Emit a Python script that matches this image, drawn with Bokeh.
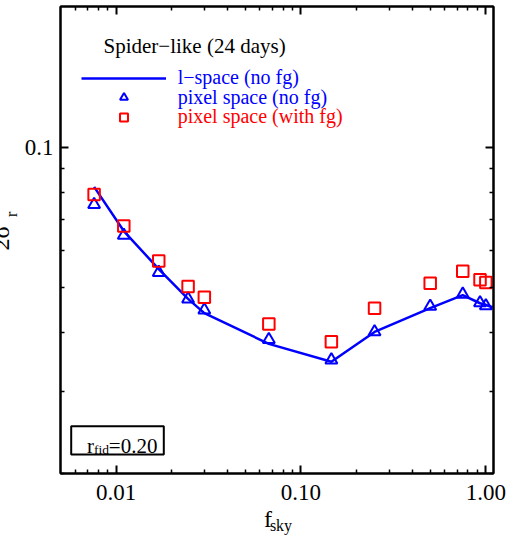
import math
from bokeh.plotting import figure
from bokeh.models import (Range1d, FixedTicker, PrintfTickFormatter, CustomJSTickFormatter,
                          LogAxis, Label, Title, Legend, LegendItem, BoxAnnotation)
from bokeh.embed import file_html
from bokeh.resources import INLINE

# ---- data ----
fsky_pix = [0.0076, 0.011, 0.017, 0.0245, 0.030, 0.067, 0.146, 0.25, 0.50, 0.75, 0.93, 1.0]
sigma_pix_nofg = [0.0753, 0.0647, 0.0539, 0.0473, 0.0448, 0.0387, 0.0350, 0.0402, 0.0456, 0.0484, 0.0464, 0.0457]
sigma_pix_fg = [0.0792, 0.0678, 0.0570, 0.0503, 0.0477, 0.0418, 0.0383, 0.0452, 0.0511, 0.0542, 0.0520, 0.0513]
fsky_l = [0.0076, 0.011, 0.017, 0.0245, 0.030, 0.067, 0.146, 0.25, 0.50, 0.75, 0.93, 1.0, 1.09]
sigma_l = [0.0822, 0.0661, 0.0548, 0.0473, 0.0441, 0.0379, 0.0347, 0.0402, 0.0452, 0.0482, 0.0463, 0.0459, 0.0454]

x_major = [0.01, 0.1, 1.0]
x_minor = [0.006, 0.007, 0.008, 0.009, 0.02, 0.03, 0.04, 0.05, 0.06, 0.07, 0.08, 0.09,
           0.2, 0.3, 0.4, 0.5, 0.6, 0.7, 0.8, 0.9]
y_major = [0.1]
y_minor = [0.02, 0.03, 0.04, 0.05, 0.06, 0.07, 0.08, 0.09]

title_text = "Spider\u2212like (24 days)"
legend_labels = ["l\u2212space (no fg)", "pixel space (no fg)", "pixel space (with fg)"]
x_title, x_title_sub = "f", "sky"
y_title, y_title_sub = "2\u03c3", "r"

FONT = "Liberation Serif"
BLUE = "#0000ff"
RED = "#ff0000"
NB = "\u00a0"

p = figure(width=510, height=536, x_axis_type="log", y_axis_type="log",
           x_range=Range1d(0.005, 1.1), y_range=Range1d(0.02, 0.2),
           output_backend="svg", toolbar_location=None,
           min_border_left=60, min_border_right=17, min_border_top=6, min_border_bottom=61)
p.grid.visible = False
p.outline_line_color = "black"
p.outline_line_width = 2
p.background_fill_color = "white"
p.border_fill_color = "white"

xb = p.below[0]
yl = p.left[0]


def style_axis(ax, ticks, minor, fmt, labels=True, standoff=8):
    ax.ticker = FixedTicker(ticks=ticks, minor_ticks=minor)
    ax.axis_line_width = 2
    ax.axis_line_color = "black"
    ax.major_tick_in = 8
    ax.major_tick_out = 0
    ax.minor_tick_in = 4
    ax.minor_tick_out = 0
    ax.major_tick_line_width = 2
    ax.minor_tick_line_width = 1.5
    ax.major_tick_line_color = "black"
    ax.minor_tick_line_color = "black"
    ax.major_label_text_font = FONT
    ax.major_label_text_color = "black"
    if labels:
        ax.formatter = PrintfTickFormatter(format=fmt)
        ax.major_label_text_font_size = "23px"
        ax.major_label_standoff = standoff
    else:
        ax.formatter = CustomJSTickFormatter(code="return ''")
        ax.major_label_text_font_size = "4px"
        ax.major_label_standoff = 0


style_axis(xb, x_major, x_minor, "%.2f", standoff=11)
style_axis(yl, y_major, y_minor, "%.1f", standoff=7)
top = LogAxis()
style_axis(top, x_major, x_minor, "%.2f", labels=False)
p.add_layout(top, "above")
right = LogAxis()
style_axis(right, y_major, y_minor, "%.1f", labels=False)
p.add_layout(right, "right")

# x title: "f" as the axis label, subscript "sky" as the label of a bare second axis
xb.axis_label = x_title + NB * 3
xb.axis_label_text_font = FONT
xb.axis_label_text_font_size = "24px"
xb.axis_label_text_font_style = "normal"
xb.axis_label_text_color = "black"
xb.axis_label_standoff = 3


def bare_axis(tick_out=0):
    return LogAxis(ticker=FixedTicker(ticks=[], minor_ticks=[]),
                   formatter=CustomJSTickFormatter(code="return ''"),
                   major_tick_out=tick_out, major_tick_in=0, minor_tick_out=0, minor_tick_in=0,
                   major_label_standoff=0, major_label_text_font_size="4px",
                   axis_line_alpha=0)


sub_ax = bare_axis()
sub_ax.axis_label = NB * 2 + x_title_sub
sub_ax.axis_label_text_font = FONT
sub_ax.axis_label_text_font_size = "16px"
sub_ax.axis_label_text_font_style = "normal"
sub_ax.axis_label_text_color = "black"
sub_ax.axis_label_standoff = -18
p.add_layout(sub_ax, "below")

# y title (cut by the left edge as in the reference)
p.add_layout(Title(text=y_title_sub, text_font=FONT, text_font_size="16px",
                   text_font_style="normal", text_color="black",
                   align="left", vertical_align="middle", offset=256.5, standoff=1.5), "left")
p.add_layout(Title(text=y_title, text_font=FONT, text_font_size="24px",
                   text_font_style="normal", text_color="black",
                   align="left", vertical_align="middle", offset=223, standoff=-28.6), "left")

# ---- data glyphs ----
line_r = p.line(fsky_l, sigma_l, line_color=BLUE, line_width=2.5)
tri_r = p.scatter(fsky_pix, sigma_pix_nofg, marker="triangle", size=12,
                  line_color=BLUE, line_width=2, fill_color=None)
sq_r = p.scatter(fsky_pix, sigma_pix_fg, marker="square", size=11.5,
                 line_color=RED, line_width=2, fill_color=None)


# ---- legends (one per colour) ----
def make_legend(label, rend, color, vy):
    lg = Legend(items=[LegendItem(label=label, renderers=[rend])], location=(20.7, vy),
                glyph_width=85, glyph_height=20, label_height=20, label_standoff=12,
                padding=0, margin=0, spacing=0,
                border_line_alpha=0, background_fill_alpha=0,
                label_text_font=FONT, label_text_font_size="20px", label_text_color=color)
    p.add_layout(lg, "center")


make_legend(legend_labels[0], line_r, BLUE, 384)
make_legend(legend_labels[1], tri_r, BLUE, 364.5)
make_legend(legend_labels[2], sq_r, RED, 345)

# title text inside plot
p.add_layout(Label(x=43, y=475 - 47, x_units="screen", y_units="screen", text=title_text,
                   text_font=FONT, text_font_size="21px", text_color="black",
                   text_baseline="middle", text_align="left"))

# r_fid box
p.add_layout(BoxAnnotation(left=10.7, right=103.3, bottom=19, top=47.3,
                           left_units="screen", right_units="screen",
                           bottom_units="screen", top_units="screen",
                           fill_alpha=0, line_color="black", line_alpha=1, line_width=2))
p.add_layout(Label(x=26.5, y=475 - 447, x_units="screen", y_units="screen", text="r",
                   text_font=FONT, text_font_size="21px", text_color="black",
                   text_baseline="alphabetic"))
p.add_layout(Label(x=33.5, y=475 - 451, x_units="screen", y_units="screen", text="fid",
                   text_font=FONT, text_font_size="13.5px", text_color="black",
                   text_baseline="alphabetic"))
p.add_layout(Label(x=48.3, y=475 - 447, x_units="screen", y_units="screen", text="=0.20",
                   text_font=FONT, text_font_size="21px", text_color="black",
                   text_baseline="alphabetic"))

open("out.html", "w").write(file_html(p, INLINE))
